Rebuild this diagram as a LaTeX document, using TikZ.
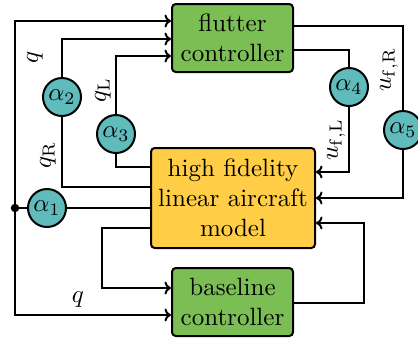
\documentclass[tikz,border=0pt]{standalone}
\usetikzlibrary{calc,arrows.meta}
\definecolor{fgreen}{RGB}{122,190,84}
\definecolor{fyellow}{RGB}{255,206,70}
\definecolor{fteal}{RGB}{96,187,188}
\begin{document}
\begin{tikzpicture}[x=0.4pt,y=-0.4pt,
  wire/.style={line width=0.8pt},
  arr/.style={wire,-{To[length=2.6pt,width=5.2pt,line width=0.8pt]}},
  ctrlbox/.style={draw,line width=0.8pt,rounded corners=1.5pt,fill=fgreen,align=center,minimum width=48.4pt,minimum height=27.2pt,inner sep=0pt},
  modelbox/.style={draw,line width=0.8pt,rounded corners=1.5pt,fill=fyellow,align=center,minimum width=65.6pt,minimum height=40pt,inner sep=0pt},
  gain/.style={draw,circle,line width=0.8pt,fill=fteal,minimum size=15.2pt,inner sep=0pt},
  lbl/.style={inner sep=0pt}]
\useasboundingbox (0,0) rectangle (418,341);
\node[ctrlbox] (fc) at (232.5,38) {flutter\\controller};
\node[modelbox] (hf) at (233,198) {high fidelity\\linear aircraft\\model};
\node[ctrlbox] (bc) at (232.5,302) {baseline\\controller};
\node[gain] (a1) at (47,208) {$\alpha_1$};
\node[gain] (a2) at (62,97) {$\alpha_2$};
\node[gain] (a3) at (116,134) {$\alpha_3$};
\node[gain] (a4) at (349,87) {$\alpha_4$};
\node[gain] (a5) at (403,130) {$\alpha_5$};
\fill (15,208) circle (1.7pt) coordinate (dot);
% q feedback
\draw[arr] (dot) |- ($(fc.west)+(0,-17)$);
\draw[arr] (dot) |- ($(bc.west)+(0,13)$);
\draw[wire] (dot) -- (a1) -- (a1 -| hf.west);
% alpha 2,3
\draw[arr] ($(hf.west)+(0,-11)$) -| (a2) |- ($(fc.west)+(0,1)$);
\draw[arr] ($(hf.west)+(0,-31)$) -| (a3) |- ($(fc.west)+(0,18)$);
% alpha 4,5
\draw[arr] ($(fc.east)+(0,12)$) -| (a4) |- ($(hf.east)+(0,-26)$);
\draw[arr] ($(fc.east)+(0,-12)$) -| (a5) |- (hf.east);
% baseline loop
\draw[arr] ($(bc.east)+(0,1)$) -| ($(hf.east)+(48,25)$) -- ($(hf.east)+(0,25)$);
\draw[arr] ($(hf.west)+(0,30)$) -| ($(bc.west)+(-69,-14)$) -- ($(bc.west)+(0,-14)$);
% labels
\node[lbl,rotate=90] (lq1) at (35,57) {$q$};
\node[lbl,rotate=90] (lqR) at (48,155) {$q_\mathrm{R}$};
\node[lbl,rotate=90] (lqL) at (103,90) {$q_\mathrm{L}$};
\node[lbl,rotate=90] (lufL) at (336,140) {$u_\mathrm{f,L}$};
\node[lbl,rotate=90] (lufR) at (389,70) {$u_\mathrm{f,R}$};
\node[lbl] (lq2) at (78,300) {$q$};
\end{tikzpicture}
\end{document}
